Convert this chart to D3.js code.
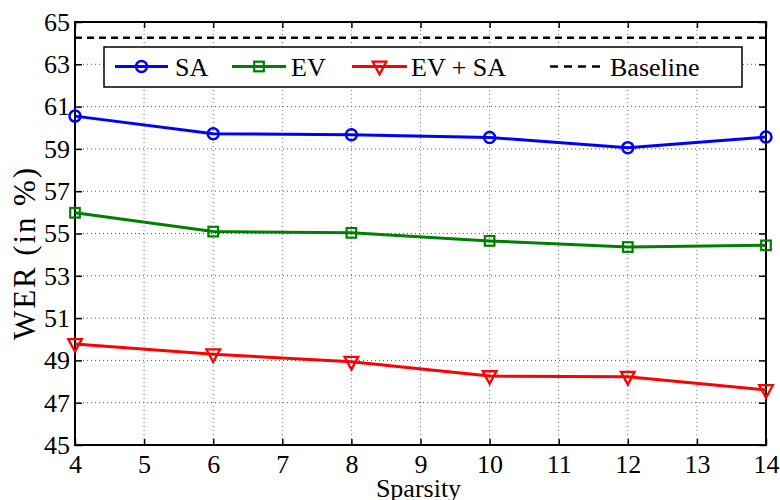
<!DOCTYPE html>
<html>
<head>
<meta charset="utf-8">
<script src="https://cdn.jsdelivr.net/npm/d3@7"></script>
<style>
  html, body { margin: 0; padding: 0; background: #fff; }
  svg { display: block; }
</style>
</head>
<body>
<svg id="chart" width="780" height="500"></svg>
<script>
// WER versus sparsity for the three systems, plus the baseline reference
const sparsity = [4, 6, 8, 10, 12, 14];
const saValues = [60.55, 59.72, 59.67, 59.54, 59.06, 59.56];
const evValues = [55.98, 55.09, 55.03, 54.65, 54.36, 54.44];
const evSaValues = [49.78, 49.29, 48.94, 48.26, 48.23, 47.60];
const baselineValue = 64.26;
const xTicks = [4, 5, 6, 7, 8, 9, 10, 11, 12, 13, 14];
const yTicks = [45, 47, 49, 51, 53, 55, 57, 59, 61, 63, 65];
const seriesNames = ["SA", "EV", "EV + SA", "Baseline"];

(function draw() {
  const serif = "Liberation Serif";
  const fontSize = 26;
  const svg = d3.select("#chart");
  const pL = 75, pR = 766, pT = 22, pB = 445;

  const x = d3.scaleLinear().domain([4, 14]).range([pL, pR]);
  const y = d3.scaleLinear().domain([45, 65]).range([pB, pT]);

  // dotted grid
  const grid = svg.append("g");
  grid.selectAll("line.v").data(xTicks.slice(1, -1)).join("line")
    .attr("class", "v")
    .attr("x1", d => x(d)).attr("x2", d => x(d))
    .attr("y1", pT).attr("y2", pB)
    .attr("stroke", "#777").attr("stroke-width", 1).attr("stroke-dasharray", "1,3");
  grid.selectAll("line.h").data(yTicks.slice(1, -1)).join("line")
    .attr("class", "h")
    .attr("x1", pL).attr("x2", pR)
    .attr("y1", d => y(d)).attr("y2", d => y(d))
    .attr("stroke", "#555").attr("stroke-width", 1).attr("stroke-dasharray", "1,3");

  // axes with inward ticks on all four sides
  const xAxis = svg.append("g").attr("transform", `translate(0,${pB})`)
    .call(d3.axisBottom(x).tickValues(xTicks).tickFormat(d3.format("d")).tickSizeInner(-6).tickSizeOuter(0).tickPadding(12));
  const xTop = svg.append("g").attr("transform", `translate(0,${pT})`)
    .call(d3.axisTop(x).tickValues(xTicks).tickFormat("").tickSizeInner(-6).tickSizeOuter(0));
  const yAxis = svg.append("g").attr("transform", `translate(${pL},0)`)
    .call(d3.axisLeft(y).tickValues(yTicks).tickFormat(d3.format("d")).tickSizeInner(-7).tickSizeOuter(0).tickPadding(5));
  const yRight = svg.append("g").attr("transform", `translate(${pR},0)`)
    .call(d3.axisRight(y).tickValues(yTicks).tickFormat("").tickSizeInner(-7).tickSizeOuter(0));

  [xAxis, xTop, yAxis, yRight].forEach(g => {
    g.attr("font-family", serif).attr("font-size", fontSize);
    g.select(".domain").remove();
    g.selectAll(".tick line").attr("stroke", "#000").attr("stroke-width", 1.5);
    g.selectAll(".tick text").attr("fill", "#000")
      .attr("font-family", serif).attr("font-size", fontSize);
  });
  xAxis.selectAll(".tick text").attr("dy", null).attr("y", 28);
  yAxis.selectAll(".tick text").attr("dy", "0.32em").attr("x", -5);

  // frame
  svg.append("rect").attr("x", pL).attr("y", pT)
    .attr("width", pR - pL).attr("height", pB - pT)
    .attr("fill", "none").attr("stroke", "#000").attr("stroke-width", 2);

  // baseline
  svg.append("line")
    .attr("x1", pL).attr("x2", pR)
    .attr("y1", y(baselineValue)).attr("y2", y(baselineValue))
    .attr("stroke", "#000").attr("stroke-width", 2.5).attr("stroke-dasharray", "7,5");

  const line = d3.line().x(d => x(d[0])).y(d => y(d[1]));

  function drawMarker(g, kind, color) {
    if (kind === "circle") {
      g.append("circle").attr("r", 5.5).attr("fill", "none").attr("stroke", color).attr("stroke-width", 2.5);
    } else if (kind === "square") {
      g.append("rect").attr("x", -4.8).attr("y", -4.8).attr("width", 9.6).attr("height", 9.6)
        .attr("fill", "none").attr("stroke", color).attr("stroke-width", 2.2);
    } else {
      g.append("path").attr("d", "M-6.8,-4.8 L6.8,-4.8 L0,7.8 Z")
        .attr("fill", "none").attr("stroke", color).attr("stroke-width", 2.3).attr("stroke-linejoin", "miter");
    }
  }

  const series = [
    { name: seriesNames[0], values: saValues, color: "#0000ff", marker: "circle" },
    { name: seriesNames[1], values: evValues, color: "#008000", marker: "square" },
    { name: seriesNames[2], values: evSaValues, color: "#ff0000", marker: "triangle" }
  ];

  series.forEach(s => {
    const pts = sparsity.map((v, i) => [v, s.values[i]]);
    svg.append("path").datum(pts).attr("d", line)
      .attr("fill", "none").attr("stroke", s.color).attr("stroke-width", 3).attr("stroke-linejoin", "round");
    pts.forEach(p => {
      const g = svg.append("g").attr("transform", `translate(${x(p[0])},${y(p[1])})`);
      drawMarker(g, s.marker, s.color);
    });
  });

  // legend
  const legend = svg.append("g");
  legend.append("rect").attr("x", 104).attr("y", 47).attr("width", 638).attr("height", 40)
    .attr("fill", "#fff").attr("stroke", "#000").attr("stroke-width", 1.5);
  const legendItems = [
    { x1: 115, x2: 168, tx: 175, s: series[0] },
    { x1: 232, x2: 286, tx: 291, s: series[1] },
    { x1: 352, x2: 407, tx: 411, s: series[2] }
  ];
  const ly = 66.5;
  legendItems.forEach(it => {
    legend.append("line").attr("x1", it.x1).attr("x2", it.x2).attr("y1", ly).attr("y2", ly)
      .attr("stroke", it.s.color).attr("stroke-width", 3);
    const g = legend.append("g").attr("transform", `translate(${(it.x1 + it.x2) / 2},${ly})`);
    drawMarker(g, it.s.marker, it.s.color);
    legend.append("text").attr("x", it.tx).attr("y", ly + 9.5)
      .attr("font-family", serif).attr("font-size", fontSize).text(it.s.name);
  });
  legend.append("line").attr("x1", 550).attr("x2", 606).attr("y1", ly).attr("y2", ly)
    .attr("stroke", "#000").attr("stroke-width", 2.5).attr("stroke-dasharray", "8,6");
  legend.append("text").attr("x", 610).attr("y", ly + 9.5)
    .attr("font-family", serif).attr("font-size", fontSize).text(seriesNames[3]);

  // axis titles
  svg.append("text").attr("x", 418.5).attr("y", 497).attr("text-anchor", "middle")
    .attr("font-family", serif).attr("font-size", fontSize).text("Sparsity");
  svg.append("text").attr("transform", "translate(35,254) rotate(-90)")
    .attr("text-anchor", "middle").attr("font-family", serif).attr("font-size", 31)
    .attr("textLength", 172).attr("lengthAdjust", "spacing").text("WER (in %)");
})();
</script>
</body>
</html>
